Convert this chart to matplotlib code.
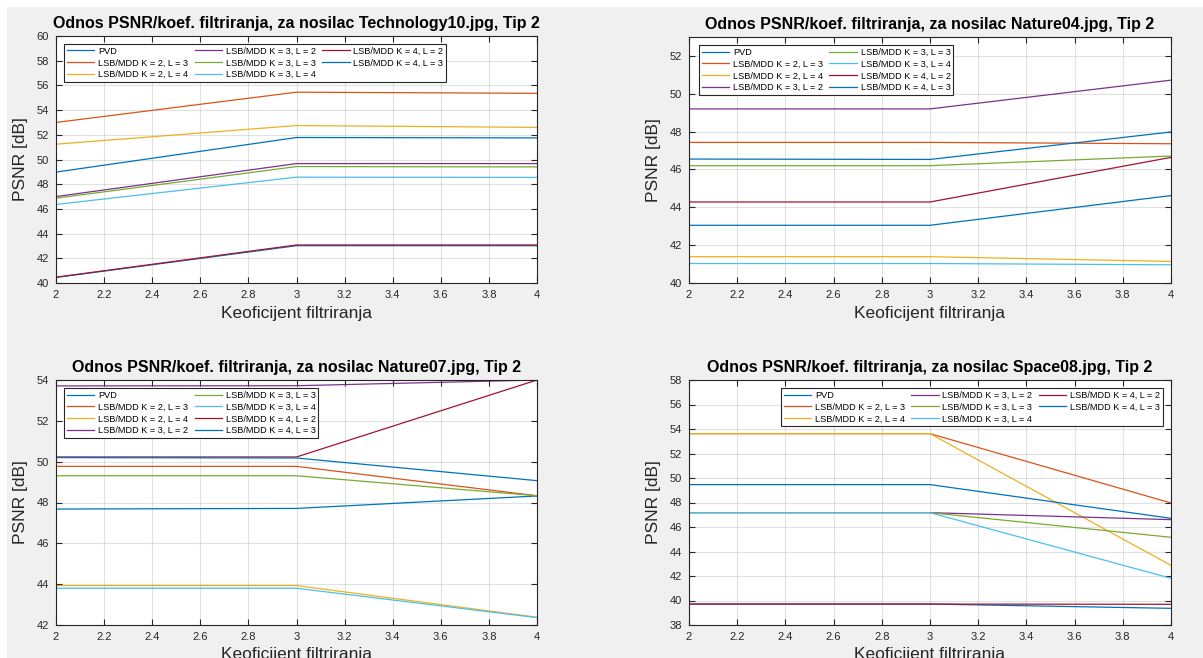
import matplotlib.pyplot as plt
from matplotlib.patches import Rectangle

plt.rcParams['font.family'] = ['Liberation Sans', 'DejaVu Sans']

x_coef = [2, 3, 4]
labels = ['PVD', 'LSB/MDD K = 2, L = 3', 'LSB/MDD K = 2, L = 4',
          'LSB/MDD K = 3, L = 2', 'LSB/MDD K = 3, L = 3', 'LSB/MDD K = 3, L = 4',
          'LSB/MDD K = 4, L = 2', 'LSB/MDD K = 4, L = 3']

# MATLAB default line colour order (wraps after 7)
colors = ['#0072BD', '#D95319', '#EDB120', '#7E2F8E', '#77AC30',
          '#4DBEEE', '#A2142F', '#0072BD']

# PSNR values per carrier image, one row per method (same order as labels)
tech10 = [
    [40.45, 43.02, 43.02],
    [53.00, 55.45, 55.36],
    [51.24, 52.75, 52.60],
    [47.00, 49.67, 49.67],
    [46.87, 49.43, 49.40],
    [46.36, 48.57, 48.55],
    [40.47, 43.08, 43.08],
    [48.98, 51.78, 51.75],
]
nature04 = [
    [43.05, 43.05, 44.62],
    [47.43, 47.43, 47.36],
    [41.39, 41.39, 41.14],
    [49.20, 49.20, 50.72],
    [46.20, 46.20, 46.71],
    [41.03, 41.03, 40.96],
    [44.28, 44.28, 46.64],
    [46.55, 46.53, 47.98],
]
nature07 = [
    [47.68, 47.71, 48.32],
    [49.77, 49.77, 48.33],
    [43.93, 43.93, 42.38],
    [53.71, 53.72, 54.00],
    [49.31, 49.31, 48.33],
    [43.80, 43.80, 42.36],
    [50.23, 50.23, 54.00],
    [50.20, 50.18, 49.07],
]
space08 = [
    [39.71, 39.71, 39.36],
    [53.62, 53.62, 47.96],
    [53.62, 53.62, 42.87],
    [47.17, 47.17, 46.60],
    [47.17, 47.17, 45.16],
    [47.17, 47.17, 41.81],
    [39.71, 39.71, 39.69],
    [49.46, 49.46, 46.71],
]

W, H = 1203, 658
fig = plt.figure(figsize=(W / 100, H / 100), dpi=100, facecolor='white')
fig.patches.append(Rectangle((7 / W, 0), 1 - 7 / W, 1 - 7 / H, transform=fig.transFigure,
                             facecolor='#F0F0F0', edgecolor='none', zorder=-10))

AX_COL = '#262626'


def px_axes(left, top, right, bottom):
    return fig.add_axes([left / W, 1 - bottom / H, (right - left) / W, (bottom - top) / H])


def draw_panel(ax, data, name, ylim, ncol, leg_loc, leg_anchor):
    for vals, lab, col in zip(data, labels, colors):
        ax.plot(x_coef, vals, color=col, linewidth=0.9, label=lab)
    ax.set_xlim(2, 4)
    ax.set_ylim(*ylim)
    ax.set_xticks([2, 2.2, 2.4, 2.6, 2.8, 3, 3.2, 3.4, 3.6, 3.8, 4])
    ax.set_xticklabels(['2', '2.2', '2.4', '2.6', '2.8', '3', '3.2', '3.4', '3.6', '3.8', '4'])
    ax.set_yticks(range(int(ylim[0]), int(ylim[1]) + 1, 2))
    ax.grid(True, color='#262626', alpha=0.13, linewidth=0.8)
    ax.tick_params(direction='in', top=True, right=True, length=4, width=0.8,
                   colors=AX_COL, labelsize=8, pad=5)
    for s in ax.spines.values():
        s.set_color(AX_COL)
        s.set_linewidth(0.8)
    ax.set_title(f'Odnos PSNR/koef. filtriranja, za nosilac {name}, Tip 2',
                 fontsize=11.5, fontweight='bold', pad=6, color='black')
    ax.set_xlabel('Keoficijent filtriranja', fontsize=12.5, color=AX_COL, labelpad=4)
    ax.set_ylabel('PSNR [dB]', fontsize=12.5, color=AX_COL, labelpad=6)
    leg = ax.legend(ncol=ncol, loc=leg_loc, bbox_to_anchor=leg_anchor, fontsize=6.6,
                    frameon=True, fancybox=False, edgecolor=AX_COL, framealpha=1,
                    borderaxespad=0, handlelength=3.0, handletextpad=0.4,
                    columnspacing=0.7, labelspacing=0.3, borderpad=0.3)
    leg.get_frame().set_linewidth(0.8)


ax1 = px_axes(56, 36, 537, 283)
draw_panel(ax1, tech10, 'Technology10.jpg', (40, 60), 3, 'upper left', (0.017, 0.968))

ax2 = px_axes(689, 37, 1171, 283)
draw_panel(ax2, nature04, 'Nature04.jpg', (40, 53), 2, 'upper left', (0.021, 0.967))
ax2.set_yticks([40, 42, 44, 46, 48, 50, 52])

ax3 = px_axes(56, 380, 537, 625)
draw_panel(ax3, nature07, 'Nature07.jpg', (42, 54), 2, 'upper left', (0.017, 0.967))

ax4 = px_axes(689, 380, 1171, 625)
draw_panel(ax4, space08, 'Space08.jpg', (38, 58), 3, 'upper right', (0.983, 0.967))

fig.savefig('out.png', dpi=100, facecolor=fig.get_facecolor())
